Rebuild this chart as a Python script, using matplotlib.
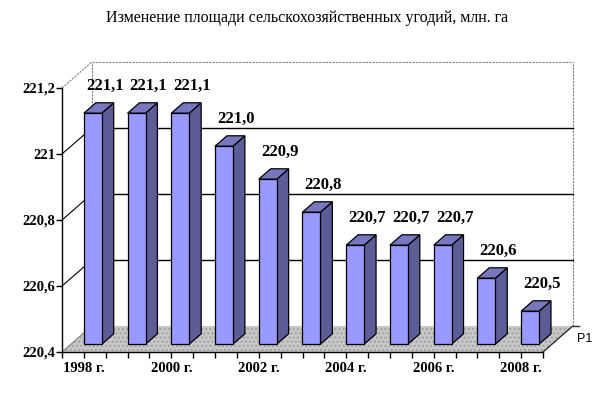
import numpy as np
import matplotlib
matplotlib.use('Agg')
import matplotlib.pyplot as plt
from matplotlib.patches import Polygon

# data
years = ['1998 г.', '1999 г.', '2000 г.', '2001 г.', '2002 г.', '2003 г.',
         '2004 г.', '2005 г.', '2006 г.', '2007 г.', '2008 г.']
area = [221.1, 221.1, 221.1, 221.0, 220.9, 220.8, 220.7, 220.7, 220.7, 220.6, 220.5]
labels = ['221,1', '221,1', '221,1', '221,0', '220,9', '220,8',
          '220,7', '220,7', '220,7', '220,6', '220,5']
yticks = [220.4, 220.6, 220.8, 221.0, 221.2]
ytick_labels = ['220,4', '220,6', '220,8', '221', '221,2']
series_name = 'Р1'
title = 'Изменение площади сельскохозяйственных угодий, млн. га'

ymin, ymax = 220.4, 221.2
n = len(area)
x = np.arange(n)

# 3d look: how far the back wall sits (in data units)
DX = 0.682
DY = 0.0788
f0, f1 = 0.3, 0.7      # bar front / back depth
bw = 0.41

W, H = 614, 394
fig = plt.figure(figsize=(W / 100, H / 100), dpi=100)
ax = fig.add_axes([62 / W, 1 - 352 / H, 481 / W, 264 / H])
ax.set_xlim(-0.5, n - 0.5)
ax.set_ylim(ymin, ymax)
for s in ['top', 'right', 'bottom']:
    ax.spines[s].set_visible(False)
ax.spines['left'].set_linewidth(1.0)
ax.patch.set_visible(False)

serif = 'Liberation Serif'

# floor
x0, x1 = -0.5, n - 0.5
floor = Polygon([(x0, ymin), (x1, ymin), (x1 + DX, ymin + DY), (x0 + DX, ymin + DY)],
                closed=True, facecolor='#c8c8c8', edgecolor='#a0a0a0', hatch='....',
                linewidth=0, clip_on=False, zorder=1)
ax.add_patch(floor)
ax.plot([x1, x1 + DX], [ymin, ymin + DY], color='#303030', lw=1, clip_on=False, zorder=2)
ax.plot([x0, x0 + DX], [ymin, ymin + DY], color='#808080', lw=0.8, clip_on=False, zorder=2)
ax.plot([x0, x1], [ymin, ymin], color='black', lw=1, clip_on=False, zorder=6)

# walls
ax.plot([x0 + DX, x1 + DX], [ymax + DY, ymax + DY], color='#808080', lw=0.8, ls=(0, (2, 1)), clip_on=False)
ax.plot([x0 + DX, x0 + DX], [ymin + DY, ymax + DY], color='#808080', lw=0.8, ls=(0, (2, 1)), clip_on=False)
ax.plot([x1 + DX, x1 + DX], [ymin + DY, ymax + DY], color='#808080', lw=0.8, ls=(0, (2, 1)), clip_on=False)
ax.plot([x0, x0 + DX], [ymax, ymax + DY], color='#808080', lw=0.8, ls=(0, (2, 1)), clip_on=False)
for v in yticks[1:-1]:
    ax.plot([x0, x0 + DX], [v, v + DY], color='black', lw=0.8, clip_on=False, zorder=2)
    ax.plot([x0 + DX, x1 + DX], [v + DY, v + DY], color='black', lw=1, clip_on=False, zorder=2)

# bars
front = '#9999ff'
side = '#5c5c96'
top = '#7878c0'
ddx = (f1 - f0) * DX
ddy = (f1 - f0) * DY
base = ymin + f0 * DY
heights = np.array(area) - ymin
ax.bar(x + f0 * DX, heights, width=bw, bottom=base, color=front,
       edgecolor='black', linewidth=0.9, zorder=5, clip_on=False)
for xi, v in zip(x, area):
    xl = xi + f0 * DX - bw / 2
    xr = xi + f0 * DX + bw / 2
    t0 = v + f0 * DY
    ax.add_patch(Polygon([(xr, base), (xr + ddx, base + ddy), (xr + ddx, t0 + ddy), (xr, t0)],
                         closed=True, facecolor=side, edgecolor='black', lw=0.9,
                         clip_on=False, zorder=4))
    ax.add_patch(Polygon([(xl, t0), (xr, t0), (xr + ddx, t0 + ddy), (xl + ddx, t0 + ddy)],
                         closed=True, facecolor=top, edgecolor='black', lw=0.9,
                         clip_on=False, zorder=4))

# value labels
for xi, v, lab in zip(x, area, labels):
    ax.annotate(lab, (xi + f1 * DX, v + f1 * DY), xytext=(0, 9), textcoords='offset pixels',
                ha='center', va='bottom', fontsize=12, fontweight='bold', family=serif,
                annotation_clip=False, zorder=7)

# axes ticks
ax.set_yticks(yticks)
ax.set_yticklabels(ytick_labels, family=serif, fontweight='bold', fontsize=10.5)
ax.tick_params(axis='y', length=4, width=1, pad=1)
ax.set_xticks(np.arange(-0.5, n, 0.5), minor=True)
ax.set_xticks(x[::2])
ax.set_xticklabels(years[::2], family=serif, fontweight='bold', fontsize=10.5)
ax.tick_params(axis='x', which='both', length=4, width=1, pad=3)

# series axis
ax.plot([x1 + DX, x1 + DX + 0.13], [ymin + DY, ymin + DY], color='#303030', lw=1, clip_on=False)
ax.text(x1 + DX + 0.1, ymin + DY - 0.04, series_name, family='Liberation Sans',
        fontsize=9, va='center', ha='left')

fig.text(0.5, 1 - 18 / H, title, ha='center', va='center', family=serif, fontsize=11.5)

fig.savefig('out.png', dpi=100)
